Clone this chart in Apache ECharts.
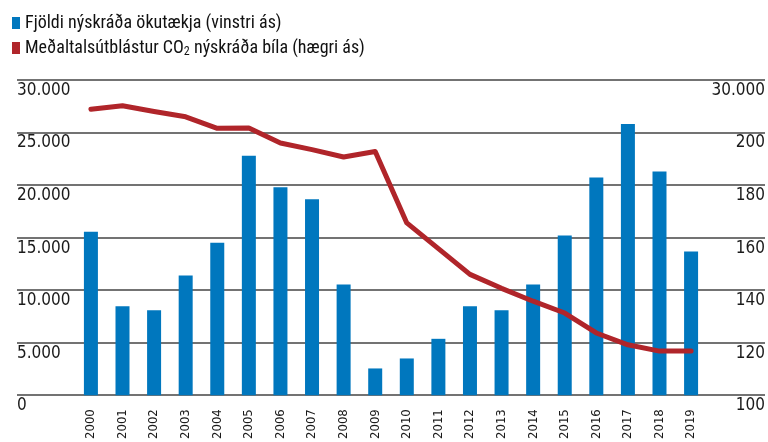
<!DOCTYPE html>
<html>
<head>
<meta charset="utf-8">
<script src="https://cdn.jsdelivr.net/npm/echarts@6/dist/echarts.min.js"></script>
<style>
  html, body { margin: 0; padding: 0; background: #fff; }
  #chart { width: 768px; height: 442px; }
</style>
</head>
<body>
<div id="chart"></div>
<script>
// Gögn lesin af myndinni
var ar = [2000, 2001, 2002, 2003, 2004, 2005, 2006, 2007, 2008, 2009,
          2010, 2011, 2012, 2013, 2014, 2015, 2016, 2017, 2018, 2019];
var okutaeki = [15550, 8480, 8100, 11400, 14520, 22800, 19800, 18660, 10550, 2550,
                3500, 5370, 8480, 8100, 10550, 15200, 20730, 25820, 21300, 13670];
var utblastur = [208.9, 210.2, 208, 206, 201.6, 201.7, 196, 193.5, 190.7, 192.8,
                 165.6, 155.8, 146, 140.7, 135.8, 131.3, 123.7, 119.2, 116.8, 116.8];
var haegriMerki = ['100', '120', '140', '160', '180', '200', '30.000'];
var nafnBlar = 'Fjöldi nýskráða ökutækja (vinstri ás)';
var nafnRaudur = 'Meðaltalsútblástur CO2 nýskráða bíla (hægri ás)';

var LEGFONT = "'Roboto Condensed', 'DejaVu Sans Condensed', sans-serif";
var AXFONT = "'DejaVu Sans Condensed', 'Roboto Condensed', sans-serif";

var myChart = echarts.init(document.getElementById('chart'));
var option = {
  animation: false,
  textStyle: { fontFamily: AXFONT },
  legend: {
    orient: 'vertical',
    left: 7,
    top: 9,
    icon: 'rect',
    itemWidth: 8,
    itemHeight: 12,
    itemGap: 7,
    data: [nafnBlar, nafnRaudur],
    textStyle: {
      fontFamily: LEGFONT, fontSize: 18, color: '#111',
      rich: { sub: { fontFamily: LEGFONT, fontSize: 12, padding: [8, 0, 0, 0], color: '#111' } }
    },
    formatter: function (n) { return n.replace('CO2', 'CO{sub|2}'); }
  },
  grid: { left: 17, right: 1, top: 80, bottom: 44 },
  xAxis: {
    type: 'value',
    min: 1997.66,
    max: 2021.34,
    axisLine: { show: false },
    axisTick: { show: false },
    splitLine: { show: false },
    axisLabel: {
      customValues: ar,
      rotate: 90,
      margin: 14,
      fontSize: 13,
      color: '#1a1a1a',
      fontFamily: AXFONT,
      formatter: function (v) { return String(v); }
    }
  },
  yAxis: [{
    type: 'value',
    min: 0, max: 30000, interval: 5000,
    axisLine: { show: false },
    axisTick: { show: false },
    splitLine: { lineStyle: { color: '#444', width: 1.5 } },
    axisLabel: {
      inside: true, margin: 0, align: 'left', verticalAlign: 'top',
      fontSize: 17, color: '#1a1a1a', fontFamily: AXFONT, padding: [2, 0, 0, 0],
      formatter: function (v) { return v.toLocaleString('de-DE'); }
    }
  }, {
    type: 'value',
    position: 'right',
    min: 100, max: 220, interval: 20,
    axisLine: { show: false },
    axisTick: { show: false },
    splitLine: { show: false },
    axisLabel: {
      inside: true, margin: 0, align: 'right', verticalAlign: 'top',
      fontSize: 17, color: '#1a1a1a', fontFamily: AXFONT, padding: [2, 0, 0, 0],
      formatter: function (v) { return haegriMerki[Math.round((v - 100) / 20)]; }
    }
  }],
  series: [{
    name: nafnBlar,
    type: 'bar',
    barWidth: 14,
    itemStyle: { color: '#0077be' },
    data: ar.map(function (a, i) { return [a, okutaeki[i]]; })
  }, {
    name: nafnRaudur,
    type: 'line',
    yAxisIndex: 1,
    symbol: 'none',
    itemStyle: { color: '#b0252a' },
    lineStyle: { color: '#b0252a', width: 5, cap: 'round', join: 'round' },
    data: ar.map(function (a, i) { return [a, utblastur[i]]; })
  }]
};
myChart.setOption(option);
</script>
</body>
</html>
